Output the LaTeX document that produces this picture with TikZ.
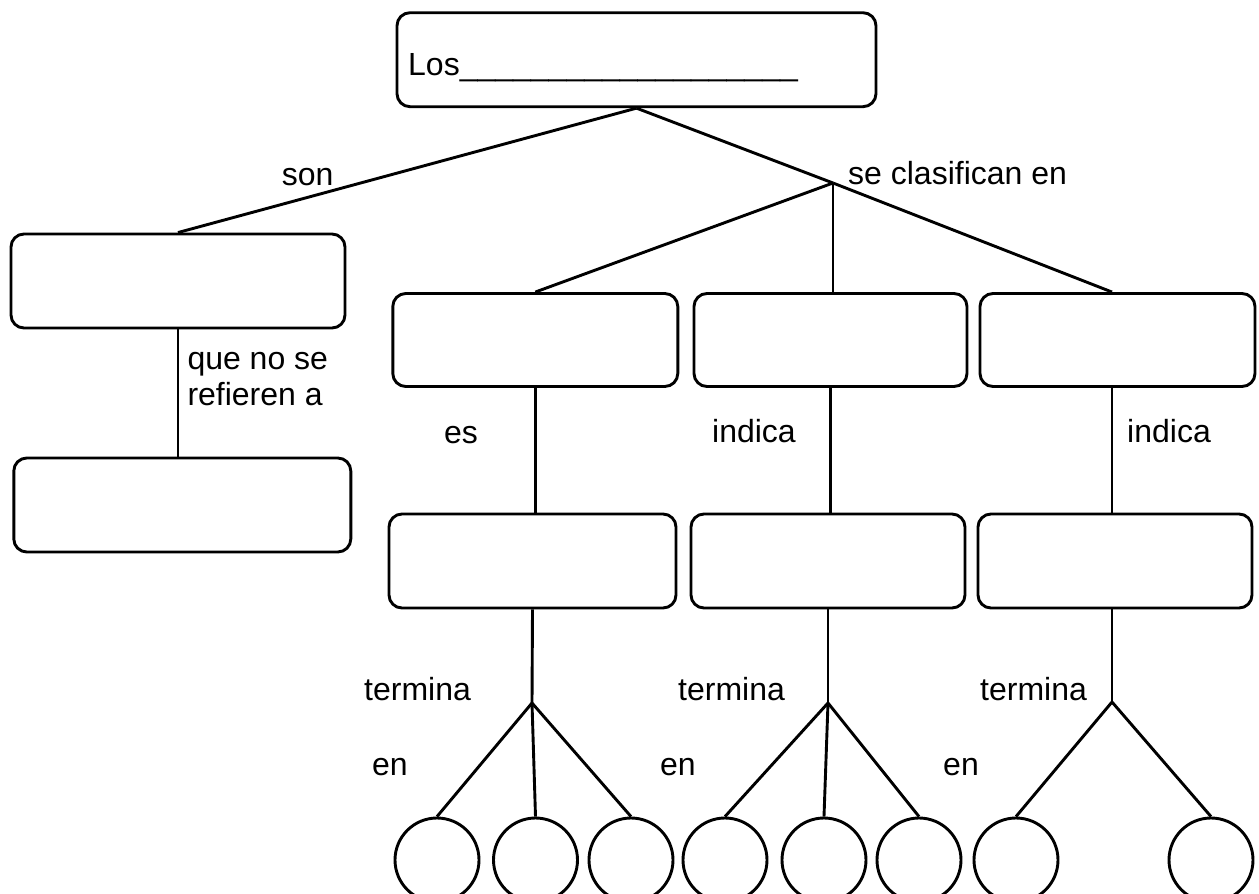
\documentclass[tikz,border=0pt]{standalone}
\usepackage{fontspec}
\setmainfont{Liberation Sans}
\begin{document}
\begin{tikzpicture}[x=1pt,y=-1pt,
  box/.style={draw, line width=2.9pt, rounded corners=13pt, inner sep=0pt},
  ball/.style={draw, circle, line width=2.9pt, minimum size=84pt, inner sep=0pt},
  lbl/.style={font=\fontsize{32}{36}\selectfont, inner sep=0pt, anchor=base west},
  conn/.style={line width=2.9pt}]
\useasboundingbox (0,0) rectangle (1259,894);
% boxes
\node[box, minimum width=479pt, minimum height=94pt] (top) at (636.5,59.7) {};
\node[box, minimum width=334pt, minimum height=94pt] (L1) at (178,281) {};
\node[box, minimum width=337pt, minimum height=94pt] (L2) at (182.3,505) {};
\node[box, minimum width=285pt, minimum height=93pt] (A1) at (535.3,340) {};
\node[box, minimum width=273pt, minimum height=93pt] (B1) at (830.5,340) {};
\node[box, minimum width=275pt, minimum height=93pt] (C1) at (1117.5,340) {};
\node[box, minimum width=287pt, minimum height=94pt] (A2) at (532.5,561) {};
\node[box, minimum width=274pt, minimum height=94pt] (B2) at (828,561) {};
\node[box, minimum width=274pt, minimum height=94pt] (C2) at (1115,561) {};
% circles
\node[ball] (a1) at (437,860) {};
\node[ball] (a2) at (535.5,860) {};
\node[ball] (a3) at (631,860) {};
\node[ball] (b1) at (725,860) {};
\node[ball] (b2) at (824,860) {};
\node[ball] (b3) at (919,860) {};
\node[ball] (c1) at (1016,860) {};
\node[ball] (c2) at (1211,860) {};
% junctions
\coordinate (J0) at (833,183);
\coordinate (JA) at (532,703);
\coordinate (JB) at (828,703);
\coordinate (JC) at (1112,702);
% connectors
\draw[conn] (top.south) -- (L1.north);
\draw[conn] (top.south) -- (J0);
\draw[conn] (J0) -- (A1.north);
\draw[conn] (J0) -- (J0 |- B1.north);
\draw[conn] (J0) -- (JC |- C1.north);
\draw[conn] (L1.south) -- (L1.south |- L2.north);
\draw[conn] (A1.south) -- (A1.south |- A2.north);
\draw[conn] (B1.south) -- (B1.south |- B2.north);
\draw[conn] (JC |- C1.south) -- (JC |- C2.north);
\draw[conn] (A2.south) -- (JA);
\draw[conn] (B2.south) -- (JB);
\draw[conn] (JC |- C2.south) -- (JC);
\draw[conn] (JA) -- (a1.north);
\draw[conn] (JA) -- (a2.north);
\draw[conn] (JA) -- (a3.north);
\draw[conn] (JB) -- (b1.north);
\draw[conn] (JB) -- (b2.north);
\draw[conn] (JB) -- (b3.north);
\draw[conn] (JC) -- (c1.north);
\draw[conn] (JC) -- (c2.north);
% labels
\node[lbl] (tLos) at (408,75) {Los\_\_\_\_\_\_\_\_\_\_\_\_\_\_\_\_\_\_\_};
\node[lbl] (tson) at (281.7,185) {son};
\node[lbl] (tcla) at (848,184) {se clasifican en};
\node[lbl] (tque) at (187.3,369) {que no se};
\node[lbl] (tref) at (187.3,405) {refieren a};
\node[lbl] (tes) at (444,443) {es};
\node[lbl] (tind1) at (712,442) {indica};
\node[lbl] (tind2) at (1127,442) {indica};
\node[lbl] (tter1) at (364,700) {termina};
\node[lbl] (tter2) at (678,700) {termina};
\node[lbl] (tter3) at (980,700) {termina};
\node[lbl] (ten1) at (372,775) {en};
\node[lbl] (ten2) at (660,775) {en};
\node[lbl] (ten3) at (943,775) {en};
\end{tikzpicture}
\end{document}
